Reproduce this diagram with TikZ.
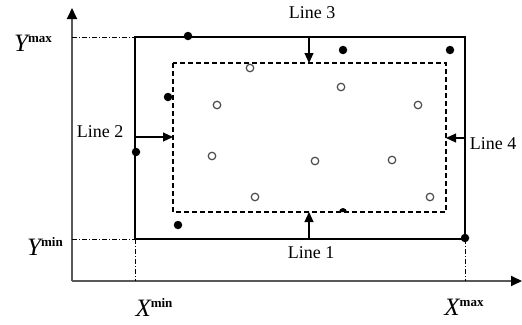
\documentclass[tikz,border=0pt]{standalone}
\usepackage{fontspec}
\setmainfont{Liberation Serif}
\usetikzlibrary{arrows.meta}
\newcommand{\axlbl}[2]{{\fontsize{25}{25}\selectfont\itshape #1}\raisebox{9pt}{\fontsize{13}{13}\selectfont\bfseries #2}}
\begin{document}
\begin{tikzpicture}[x=1pt,y=-1pt,
  fdot/.style={circle,fill=black,inner sep=0pt,minimum size=8.5pt},
  odot/.style={circle,draw=black!70,line width=1.2pt,inner sep=0pt,minimum size=7.5pt,fill=white},
  axis/.style={draw=black!65,line width=1.8pt,-{Triangle[length=11pt,width=10pt,color=black,fill=black]}},
  guide/.style={black,line width=0.7pt,dash pattern=on 5pt off 2pt on 1pt off 2pt},
  outer/.style={black,line width=1.3pt},
  inner/.style={black,line width=1.2pt,dash pattern=on 5pt off 3pt},
  push/.style={black,line width=1.1pt,-{Triangle[length=10pt,width=9pt]}},
  lbl/.style={font=\fontsize{18}{20}\selectfont,inner sep=0pt},
  alb/.style={inner sep=0pt},
]
\useasboundingbox (0,0) rectangle (522,324);
% axes
\coordinate (O) at (72,281);
\coordinate (ytip) at (72,8);
\coordinate (xtip) at (522,281);
\draw[axis] (O) -- (ytip);
\draw[axis] (O) -- (xtip);
% rectangles
\coordinate (oTL) at (135,37);
\coordinate (oBR) at (465,239);
\coordinate (iTL) at (173,63);
\coordinate (iBR) at (446,212);
\draw[outer] (oTL) rectangle (oBR);
\draw[inner] (iTL) rectangle (iBR);
% guides
\coordinate (ymaxA) at (72,37);
\coordinate (yminA) at (72,239);
\coordinate (xminA) at (135,281);
\coordinate (xmaxA) at (465,281);
\coordinate (oBL) at (135,239);
\draw[guide] (ymaxA) -- (oTL);
\draw[guide] (yminA) -- (oBL);
\draw[guide] (oBL) -- (xminA);
\draw[guide] (oBR) -- (xmaxA);
% axis labels
\node[alb] (ymax) at (33,43) {\axlbl{Y}{max}};
\node[alb] (ymin) at (45,246) {\axlbl{Y}{min}};
\node[alb] (xmin) at (154,307) {\axlbl{X}{min}};
\node[alb] (xmax) at (464,307) {\axlbl{X}{max}};
% push arrows
\coordinate (l3a) at (309,37);  \coordinate (l3b) at (309,63);
\coordinate (l2a) at (135,137); \coordinate (l2b) at (173,137);
\coordinate (l4a) at (465,138); \coordinate (l4b) at (446,138);
\coordinate (l1a) at (309,239); \coordinate (l1b) at (309,212);
\draw[push] (l3a) -- (l3b);
\draw[push] (l2a) -- (l2b);
\draw[push] (l4a) -- (l4b);
\draw[push] (l1a) -- (l1b);
\node[lbl] (line3) at (312,13) {Line 3};
\node[lbl] (line2) at (100,132) {Line 2};
\node[lbl] (line4) at (493,144) {Line 4};
\node[lbl] (line1) at (311,253) {Line 1};
% open circles
\node[odot] (o1) at (250,68) {};
\node[odot] (o2) at (217,105) {};
\node[odot] (o3) at (341,87) {};
\node[odot] (o4) at (418,105) {};
\node[odot] (o5) at (212,156) {};
\node[odot] (o6) at (315,161) {};
\node[odot] (o7) at (392,160) {};
\node[odot] (o8) at (255,197) {};
\node[odot] (o9) at (430,197) {};
% filled dots
\node[fdot] (f1) at (188,36) {};
\node[fdot] (f2) at (343,50) {};
\node[fdot] (f3) at (450,50) {};
\node[fdot] (f4) at (168,97) {};
\node[fdot] (f5) at (136,152) {};
\node[fdot] (f6) at (178,225) {};
\node[fdot] (f8) at (465,238) {};
\fill[black] (339,212) -- (347,212) arc[start angle=0,end angle=180,radius=4pt] -- cycle;
\end{tikzpicture}
\end{document}
